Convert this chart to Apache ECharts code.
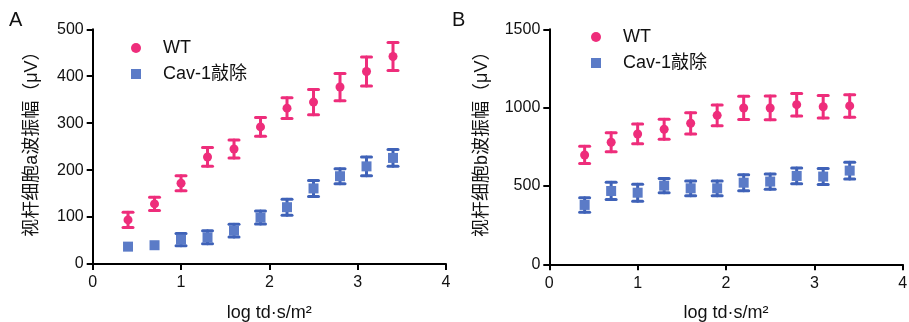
<!DOCTYPE html>
<html>
<head>
<meta charset="utf-8">
<script src="https://cdn.jsdelivr.net/npm/echarts@6/dist/echarts.min.js"></script>
<style>html,body{margin:0;padding:0;background:#fff;}#c{width:909px;height:322px;}</style>
</head>
<body>
<div id="c"></div>
<script>
// ---- data ----
var xs = [0.4, 0.7, 1.0, 1.3, 1.6, 1.9, 2.2, 2.5, 2.8, 3.1, 3.4];
var wtA = [94, 128, 172, 228, 245, 292, 332, 345, 377, 410, 442];
var wtAErr = [16, 14, 16, 20, 19, 20, 22, 27, 29, 31, 30];
var cavA = [37, 40, 52, 57, 71, 99, 121, 161, 187, 208, 226];
var cavAErr = [0, 0, 13, 14, 13.5, 14, 17, 17, 16, 20, 18];
var wtB = [698, 779, 832, 862, 900, 951, 998, 998, 1019, 1006, 1011];
var wtBErr = [55, 60, 63, 64, 68, 66, 74, 76, 72, 72, 72];
var cavB = [379, 468, 457, 502, 485, 485, 521, 528, 564, 560, 598];
var cavBErr = [46, 55, 54, 46, 47, 47, 51, 49, 50, 51, 54];
var xTicks = [0, 1, 2, 3, 4];
var yTicksA = [0, 100, 200, 300, 400, 500];
var yTicksB = [0, 500, 1000, 1500];
var nameWT = 'WT', nameCav = 'Cav-1敲除';
var xName = 'log td·s/m²';
var yNameA = '视杆细胞a波振幅（μV）';
var yNameB = '视杆细胞b波振幅（μV）';

var FONT = "'Liberation Sans', Arial, 'Noto Sans CJK SC', sans-serif";
var PINK = '#EE2D7B', BLUE = '#5B7BC7', BLUE_D = '#3F62B8';

function pts(x, y) { return x.map(function (v, i) { return [v, y[i]]; }); }
function errData(x, y, e) { return x.map(function (v, i) { return [v, y[i], e[i]]; }); }

function errSeries(name, xi, yi, data, color) {
  return {
    type: 'custom', name: name, xAxisIndex: xi, yAxisIndex: yi, z: 1, silent: true,
    renderItem: function (params, api) {
      var x = api.value(0), y = api.value(1), e = api.value(2);
      if (!e) { return { type: 'group', children: [] }; }
      var t = api.coord([x, y + e]), b = api.coord([x, y - e]);
      var hw = 5;
      var st = { stroke: color, lineWidth: 3, lineCap: 'round' };
      return {
        type: 'group', children: [
          { type: 'line', shape: { x1: t[0], y1: t[1], x2: b[0], y2: b[1] }, style: st },
          { type: 'line', shape: { x1: t[0] - hw, y1: t[1], x2: t[0] + hw, y2: t[1] }, style: st },
          { type: 'line', shape: { x1: b[0] - hw, y1: b[1], x2: b[0] + hw, y2: b[1] }, style: st }
        ]
      };
    },
    data: data
  };
}

function xAxisCfg(gi) {
  return {
    gridIndex: gi, type: 'value', min: 0, max: 4, interval: 1,
    name: xName, nameLocation: 'middle', nameGap: 40,
    nameTextStyle: { fontFamily: FONT, fontSize: 18, color: '#111' },
    axisLine: { show: true, onZero: false, lineStyle: { color: '#000', width: 2 } },
    axisTick: { show: true, inside: false, length: 6, lineStyle: { color: '#000', width: 2 } },
    axisLabel: { fontFamily: FONT, fontSize: 16, color: '#111', margin: 11,
      formatter: function (v) { return xTicks.indexOf(v) >= 0 ? String(v) : ''; } },
    splitLine: { show: false }
  };
}
function yAxisCfg(gi, max, interval, name, gap, ticks) {
  return {
    gridIndex: gi, type: 'value', min: 0, max: max, interval: interval,
    name: name, nameLocation: 'middle', nameRotate: 90, nameGap: gap,
    nameTextStyle: { fontFamily: FONT, fontSize: 18, color: '#111', padding: [0, 0, 0, 14] },
    axisLine: { show: true, onZero: false, lineStyle: { color: '#000', width: 2 } },
    axisTick: { show: true, inside: false, length: 6, lineStyle: { color: '#000', width: 2 } },
    axisLabel: { fontFamily: FONT, fontSize: 16, color: '#111', margin: 9,
      formatter: function (v) { return ticks.indexOf(v) >= 0 ? String(v) : ''; } },
    splitLine: { show: false }
  };
}
function legendCfg(left, top) {
  return {
    left: left, top: top, orient: 'vertical', itemWidth: 10, itemHeight: 10, itemGap: 8,
    textStyle: { fontFamily: FONT, fontSize: 18, color: '#111', padding: [0, 0, 0, 17], lineHeight: 18 },
    data: [{ name: nameWT, icon: 'circle' }, { name: nameCav, icon: 'rect' }],
    selectedMode: false
  };
}

var chart = echarts.init(document.getElementById('c'), null, { renderer: 'canvas' });
chart.setOption({
  animation: false,
  backgroundColor: '#fff',
  graphic: [
    { type: 'text', left: 9, top: 10, style: { text: 'A', font: '20px ' + FONT, fill: '#111' } },
    { type: 'text', left: 452, top: 10, style: { text: 'B', font: '20px ' + FONT, fill: '#111' } }
  ],
  grid: [
    { left: 92.7, top: 29.3, width: 353.3, height: 234.7, containLabel: false, outerBoundsMode: 'none' },
    { left: 549.3, top: 29.3, width: 353.4, height: 235, containLabel: false, outerBoundsMode: 'none' }
  ],
  legend: [legendCfg(126, 34), legendCfg(586, 23)],
  xAxis: [xAxisCfg(0), xAxisCfg(1)],
  yAxis: [yAxisCfg(0, 500, 100, yNameA, 52, yTicksA), yAxisCfg(1, 1500, 500, yNameB, 58, yTicksB)],
  series: [
    errSeries('errWTA', 0, 0, errData(xs, wtA, wtAErr), PINK),
    errSeries('errCavA', 0, 0, errData(xs, cavA, cavAErr), BLUE_D),
    errSeries('errWTB', 1, 1, errData(xs, wtB, wtBErr), PINK),
    errSeries('errCavB', 1, 1, errData(xs, cavB, cavBErr), BLUE_D),
    { type: 'scatter', name: nameWT, xAxisIndex: 0, yAxisIndex: 0, symbol: 'circle', symbolSize: 9, z: 3,
      itemStyle: { color: PINK, opacity: 1 }, data: pts(xs, wtA) },
    { type: 'scatter', name: nameCav, xAxisIndex: 0, yAxisIndex: 0, symbol: 'rect', symbolSize: 10, z: 3,
      itemStyle: { color: BLUE, opacity: 1 }, data: pts(xs, cavA) },
    { type: 'scatter', name: nameWT, xAxisIndex: 1, yAxisIndex: 1, symbol: 'circle', symbolSize: 9, z: 3,
      itemStyle: { color: PINK, opacity: 1 }, data: pts(xs, wtB) },
    { type: 'scatter', name: nameCav, xAxisIndex: 1, yAxisIndex: 1, symbol: 'rect', symbolSize: 10, z: 3,
      itemStyle: { color: BLUE, opacity: 1 }, data: pts(xs, cavB) }
  ]
});
</script>
</body>
</html>
